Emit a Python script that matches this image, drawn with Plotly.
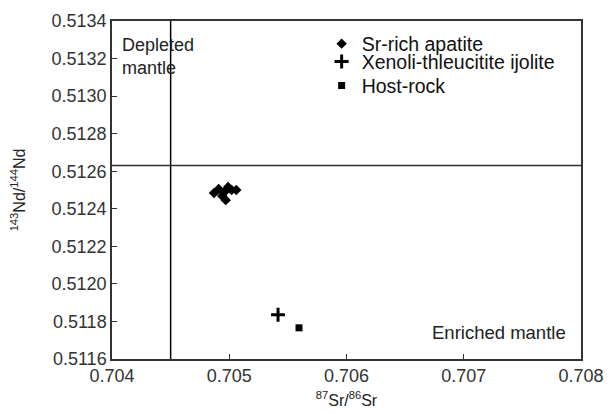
import plotly.graph_objects as go

# Data
apatite_sr = [0.70487, 0.70491, 0.70494, 0.70497, 0.70499, 0.70502, 0.70506, 0.70496]
apatite_nd = [0.512484, 0.512505, 0.512468, 0.512446, 0.512516, 0.512500, 0.512500, 0.512489]
ijolite_sr = [0.705416]
ijolite_nd = [0.511836]
host_sr = [0.705595]
host_nd = [0.511766]

bse_sr = 0.7045      # vertical divider
chur_nd = 0.51263    # horizontal divider

x_ticks = [0.704, 0.705, 0.706, 0.707, 0.708]
y_ticks = [0.5116, 0.5118, 0.5120, 0.5122, 0.5124, 0.5126, 0.5128, 0.5130, 0.5132, 0.5134]

fig = go.Figure()
fig.add_trace(go.Scatter(x=apatite_sr, y=apatite_nd, mode="markers", name="Sr-rich apatite",
                         legend="legend",
                         marker=dict(symbol="diamond", size=8, color="black")))
fig.add_trace(go.Scatter(x=ijolite_sr, y=ijolite_nd, mode="markers", name="Xenoli-thleucitite ijolite",
                         legend="legend2",
                         marker=dict(symbol="cross-thin", size=10, color="black",
                                     line=dict(width=3, color="black"))))
fig.add_trace(go.Scatter(x=host_sr, y=host_nd, mode="markers", name="Host-rock",
                         legend="legend3",
                         marker=dict(symbol="square", size=7, color="black")))

fig.add_shape(type="line", xref="x", yref="paper", x0=bse_sr, x1=bse_sr, y0=0, y1=1,
              line=dict(color="black", width=1.5))
fig.add_shape(type="line", xref="paper", yref="y", x0=0, x1=1, y0=chur_nd, y1=chur_nd,
              line=dict(color="#333", width=1.5))

fig.add_annotation(x=0.70407, y=0.51321, xref="x", yref="y", text="Depleted<br>mantle",
                   showarrow=False, xanchor="left", yanchor="middle", align="left",
                   font=dict(size=18, color="#222"))
fig.add_annotation(x=0.70789, y=0.51174, xref="x", yref="y", text="Enriched mantle",
                   showarrow=False, xanchor="right", yanchor="middle",
                   font=dict(size=18.5, color="#222"))

leg_common = dict(x=0.447, xanchor="left", yanchor="middle", bgcolor="rgba(0,0,0,0)",
                  font=dict(size=19.5, color="#111"), itemwidth=30)

fig.update_layout(
    width=606, height=405,
    margin=dict(l=104, r=33, t=13, b=54),
    paper_bgcolor="white", plot_bgcolor="white",
    font=dict(family="Liberation Sans, Arial, sans-serif", size=18, color="#222"),
    showlegend=True,
    legend=dict(y=0.932, **leg_common),
    legend2=dict(y=0.879, **leg_common),
    legend3=dict(y=0.808, **leg_common),
)
fig.update_xaxes(range=[0.704, 0.708], tickvals=x_ticks, ticktext=[f"{v:.3f}" for v in x_ticks],
                 showgrid=False, zeroline=False, showline=True, linecolor="#333", linewidth=1.5,
                 mirror=True, ticks="inside", ticklen=5, tickcolor="#333", automargin=False,
                 tickfont=dict(size=18, color="#333"),
                 title=dict(text="<sup>87</sup>Sr/<sup>86</sup>Sr", font=dict(size=16), standoff=9))
fig.update_yaxes(range=[0.5116, 0.5134], tickvals=y_ticks, ticktext=[f"{v:.4f}" for v in y_ticks],
                 showgrid=False, zeroline=False, showline=True, linecolor="#333", linewidth=1.5,
                 mirror=True, ticks="inside", ticklen=5, tickcolor="#333", automargin=False,
                 tickfont=dict(size=18, color="#333"),
                 title=dict(text="<sup>143</sup>Nd/<sup>144</sup>Nd", font=dict(size=16), standoff=28))

fig.write_html("out.html")
